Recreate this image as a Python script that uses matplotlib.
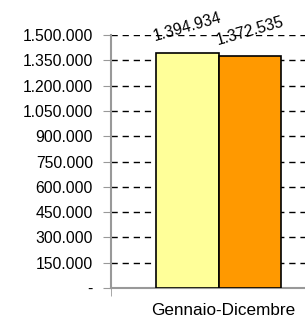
import numpy as np
import matplotlib.pyplot as plt
import matplotlib.transforms as mtransforms
from matplotlib.ticker import FuncFormatter

plt.rcParams['font.family'] = ['Liberation Sans', 'DejaVu Sans']

categoria = 'Gennaio-Dicembre'
valori = [1394934, 1372535]
colori = ['#FFFF99', '#FF9900']
yticks = np.arange(0, 1500001, 150000)

def fmt(v, pos=None):
    if v == 0:
        return '-'
    return '{:,.0f}'.format(v).replace(',', '.')

fig = plt.figure(figsize=(3.05, 3.22), dpi=100)
ax = fig.add_axes([111/305, 34/322, 215/305, 253/322])

w = 0.29
xs = [-w/2, w/2]
for x, v, c in zip(xs, valori, colori):
    ax.bar(x, v, width=w, color=c, edgecolor='black', linewidth=1.2, zorder=3)
    ax.text(x, v + 150000, fmt(v), ha='center', va='center', rotation=16,
            fontsize=11.3, rotation_mode='anchor')

ax.set_xlim(-0.5, 0.5)
ax.set_ylim(0, 1500000)
ax.set_yticks(yticks)
ax.yaxis.set_major_formatter(FuncFormatter(fmt))
ax.set_xticks([0])
ax.set_xticklabels([categoria])
ax.set_xticks([-0.5], minor=True)
ax.tick_params(axis='x', which='major', length=0, pad=11, labelsize=12.3)
ax.tick_params(axis='x', which='minor', length=6, color='#999999', direction='out')
ax.tick_params(axis='y', length=6, color='#999999', labelsize=11.3, pad=7)
off = mtransforms.ScaledTranslation(5/100, 0, fig.dpi_scale_trans)
for lab in ax.get_xticklabels():
    lab.set_transform(lab.get_transform() + off)

for y in yticks:
    ax.axhline(y, color='black', linestyle=(0, (4.5, 3.5)), linewidth=1.0, zorder=2)

for s in ['top', 'right']:
    ax.spines[s].set_visible(False)
ax.spines['left'].set_color('#999999')
ax.spines['bottom'].set_color('#999999')
ax.spines['left'].set_linewidth(1.5)
ax.spines['bottom'].set_linewidth(1.5)

fig.savefig('out.png', dpi=100)
